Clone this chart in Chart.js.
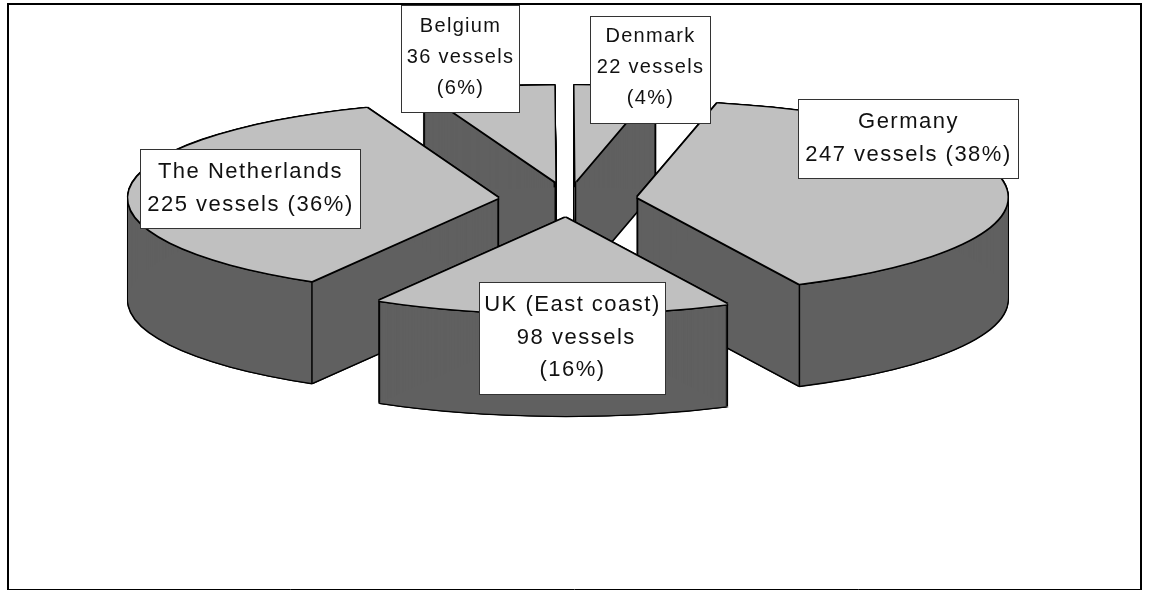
<!DOCTYPE html>
<html>
<head>
<meta charset="utf-8">
<style>
  html, body { margin: 0; padding: 0; background: #fff; }
  #wrap { width: 1149px; height: 590px; }
</style>
<script src="https://cdn.jsdelivr.net/npm/chart.js@4/dist/chart.umd.js"></script>
</head>
<body>
<div id="wrap"><canvas id="pie" width="1149" height="590"></canvas></div>
<script>
// clockwise from 12 o'clock
const categories = ['Denmark', 'Germany', 'UK (East coast)', 'The Netherlands', 'Belgium'];
const vessels = [22, 247, 98, 225, 36];
const labelLines = [
  ['Denmark', '22 vessels', '(4%)'],
  ['Germany', '247 vessels (38%)'],
  ['UK (East coast)', ' 98 vessels', '(16%)'],
  ['The Netherlands', '225 vessels (36%)'],
  ['Belgium', '36 vessels', '(6%)']
];

// look of the tilted pie
const pieX = 568, pieY = 199.5, pieRadius = 370;
const squash = 0.26, explode = 70, depth = 102;
const topColor = '#c0c0c0', wallColor = '#606060', edgeColor = '#000';
const edge = 1.3;
const paintOrder = [4, 0, 3, 1, 2]; // back to front, UK sits on top

// label boxes [x, y, w, h, first baseline, line step, font px, letter spacing]
const labelBoxes = [
  [590, 16, 121, 108, 42, 31, 20, 1.3],
  [798, 99, 221, 80, 128, 33, 22, 1.5],
  [479, 282, 187, 113, 311, 32.5, 22, 1.5],
  [140, 149, 221, 80, 178, 33, 22, 1.5],
  [401, 5, 119, 108, 32, 31, 20, 1.3]
];

function drawCopy(ctx, arc, look, dx, dy) {
  const mid = (arc.startAngle + arc.endAngle) / 2;
  const original = arc.options;
  arc.options = Object.assign(Object.create(original), look);
  ctx.save();
  ctx.translate(pieX + Math.cos(mid) * explode + dx, pieY + Math.sin(mid) * explode * squash + dy);
  ctx.scale(1, squash);
  ctx.translate(-arc.x, -arc.y);
  arc.draw(ctx);
  ctx.restore();
  arc.options = original;
}

function drawCornerLines(ctx, arc) {
  const mid = (arc.startAngle + arc.endAngle) / 2;
  const ox = pieX + Math.cos(mid) * explode;
  const oy = pieY + Math.sin(mid) * explode * squash;
  const corners = [
    [ox, oy],
    [ox + Math.cos(arc.startAngle) * arc.outerRadius, oy + Math.sin(arc.startAngle) * arc.outerRadius * squash],
    [ox + Math.cos(arc.endAngle) * arc.outerRadius, oy + Math.sin(arc.endAngle) * arc.outerRadius * squash]
  ];
  ctx.save();
  ctx.strokeStyle = edgeColor;
  ctx.lineWidth = 1.5;
  corners.forEach(([x, y]) => {
    ctx.beginPath();
    ctx.moveTo(x, y);
    ctx.lineTo(x, y + depth);
    ctx.stroke();
  });
  ctx.restore();
}

const tiltedPie = {
  id: 'tiltedPie',
  beforeDatasetsDraw(chart) {
    const ctx = chart.ctx;
    const arcs = chart.getDatasetMeta(0).data;
    const black = { backgroundColor: edgeColor, borderWidth: 0 };
    const wall = { backgroundColor: wallColor, borderWidth: 0 };
    const top = { backgroundColor: topColor, borderWidth: 0 };

    paintOrder.forEach(i => {
      const arc = arcs[i];
      // black silhouette first, then the fills leave a thin edge
      for (let k = -1; k <= depth + 1; k++) {
        drawCopy(ctx, arc, black, -edge, k);
        drawCopy(ctx, arc, black, edge, k);
      }
      drawCopy(ctx, arc, black, 0, depth + edge);
      for (let k = 0; k <= depth; k++) {
        drawCopy(ctx, arc, wall, 0, k);
      }
      drawCornerLines(ctx, arc);
      [[-1, -1], [0, -1], [1, -1], [-1, 0], [1, 0], [-1, 1], [0, 1], [1, 1]].forEach(([dx, dy]) => {
        drawCopy(ctx, arc, black, dx * edge, dy * edge);
      });
      drawCopy(ctx, arc, top, 0, 0);
    });
    return false; // the default flat pie is not wanted
  },
  afterDraw(chart) {
    const ctx = chart.ctx;
    ctx.save();
    ctx.strokeStyle = '#000';
    ctx.lineWidth = 2;
    ctx.beginPath();
    ctx.moveTo(8, 590);
    ctx.lineTo(8, 4);
    ctx.lineTo(1141, 4);
    ctx.lineTo(1141, 590);
    ctx.stroke();
    ctx.lineWidth = 1;
    ctx.beginPath();
    ctx.moveTo(7, 589.5);
    ctx.lineTo(1142, 589.5);
    ctx.stroke();

    ctx.textAlign = 'center';
    ctx.textBaseline = 'alphabetic';
    labelLines.forEach((lines, i) => {
      const [x, y, w, h, base, step, size, spacing] = labelBoxes[i];
      ctx.fillStyle = '#fff';
      ctx.fillRect(x, y, w, h);
      ctx.strokeStyle = '#333';
      ctx.lineWidth = 1;
      ctx.strokeRect(x + 0.5, y + 0.5, w - 1, h - 1);
      ctx.font = size + 'px "Liberation Sans"';
      ctx.letterSpacing = spacing + 'px';
      ctx.fillStyle = '#111';
      lines.forEach((line, n) => ctx.fillText(line, x + w / 2, base + n * step));
    });
    ctx.restore();
  }
};

new Chart(document.getElementById('pie'), {
  type: 'pie',
  data: {
    labels: categories,
    datasets: [{
      data: vessels,
      radius: pieRadius,
      backgroundColor: topColor,
      borderWidth: 0,
      clip: false
    }]
  },
  options: {
    responsive: false,
    animation: false,
    rotation: -0.15,
    layout: { padding: 0 },
    plugins: { legend: { display: false }, tooltip: { enabled: false } }
  },
  plugins: [tiltedPie]
});
</script>
</body>
</html>
